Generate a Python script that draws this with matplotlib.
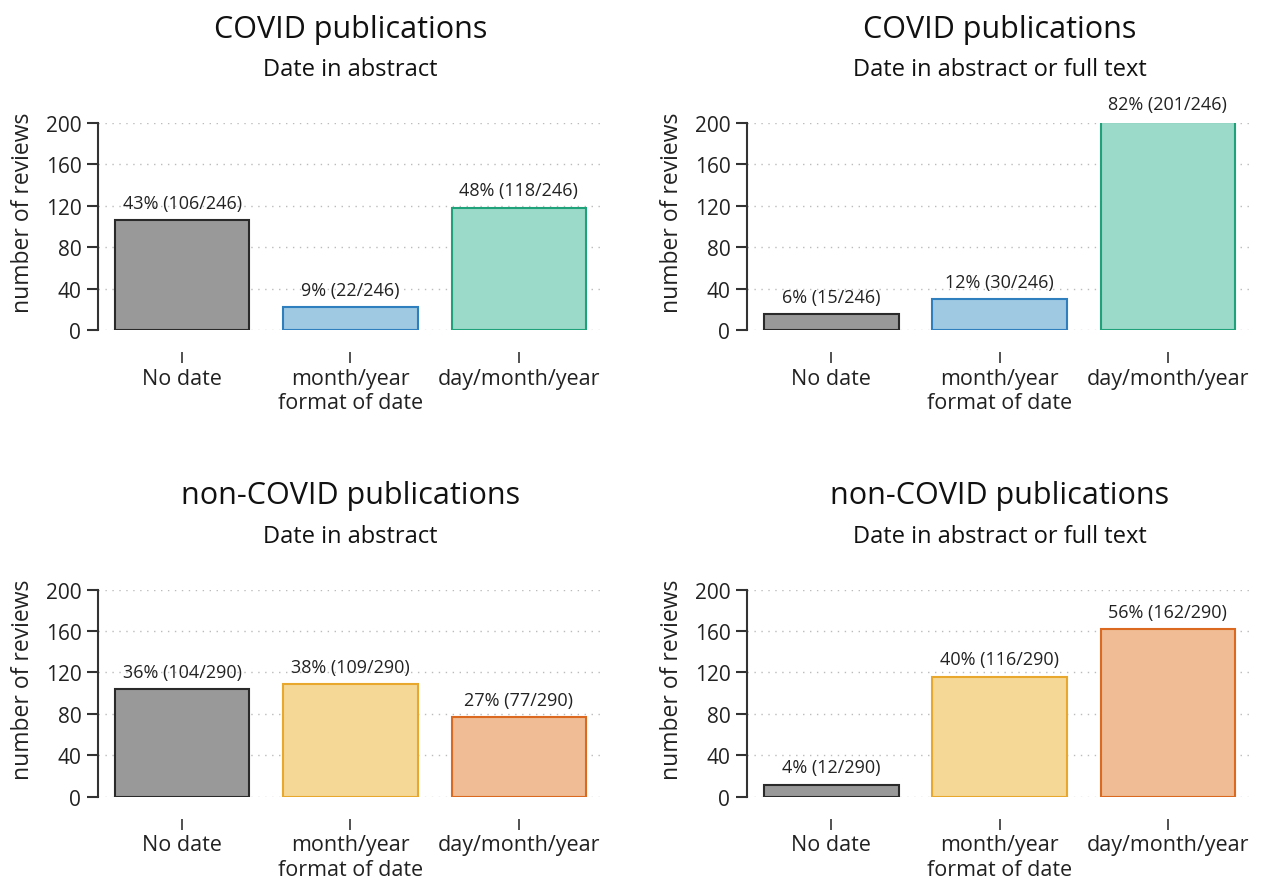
import matplotlib.pyplot as plt
import numpy as np

plt.rcParams['font.family'] = ['Open Sans', 'DejaVu Sans']

categories = ["No date", "month/year\nformat of date", "day/month/year"]

covid_abstract = [106, 22, 118]
covid_fulltext = [15, 30, 201]
noncovid_abstract = [104, 109, 77]
noncovid_fulltext = [12, 116, 162]

covid_total = 246
noncovid_total = 290

pct_covid_abstract = [43, 9, 48]
pct_covid_fulltext = [6, 12, 82]
pct_noncovid_abstract = [36, 38, 27]
pct_noncovid_fulltext = [4, 40, 56]

covid_fill = ["#999999", "#9fc9e2", "#9bdac8"]
covid_edge = ["#2a2a2a", "#2f7fbf", "#1fa27a"]
noncovid_fill = ["#999999", "#f5d896", "#efbc95"]
noncovid_edge = ["#2a2a2a", "#e8a82e", "#db6a20"]

panels = [
    ("COVID publications", "Date in abstract", covid_abstract, pct_covid_abstract,
     covid_total, covid_fill, covid_edge, [0.0777, 0.6234]),
    ("COVID publications", "Date in abstract or full text", covid_fulltext, pct_covid_fulltext,
     covid_total, covid_fill, covid_edge, [0.5924, 0.6234]),
    ("non-COVID publications", "Date in abstract", noncovid_abstract, pct_noncovid_abstract,
     noncovid_total, noncovid_fill, noncovid_edge, [0.0777, 0.0922]),
    ("non-COVID publications", "Date in abstract or full text", noncovid_fulltext, pct_noncovid_fulltext,
     noncovid_total, noncovid_fill, noncovid_edge, [0.5924, 0.0922]),
]

fig = plt.figure(figsize=(12.61, 8.79), dpi=100)
w, h = 0.4005, 0.2360
x = np.arange(len(categories))

for title, sub, vals, pcts, total, fills, edges, (l, b) in panels:
    ax = fig.add_axes([l, b, w, h])
    ax.bar(x, vals, width=0.8, color=fills, edgecolor=edges, linewidth=1.5, zorder=3)
    for xi, v, p in zip(x, vals, pcts):
        ax.annotate(f"{p}% ({v}/{total})", (xi, v), xytext=(0, 6), textcoords="offset points",
                    ha="center", va="bottom", fontsize=13, color="#222222", annotation_clip=False)
    ax.set_xlim(-0.5, 2.5)
    ax.set_ylim(0, 200)
    ax.set_yticks(np.arange(0, 201, 40))
    ax.set_xticks(x)
    ax.set_xticklabels(categories, linespacing=0.9)
    ax.tick_params(axis="y", labelsize=15, length=8, width=1.5, pad=4, colors="#333333", labelcolor="#222222")
    ax.tick_params(axis="x", labelsize=15.5, length=8, width=1.2, pad=3, colors="#333333", labelcolor="#222222")
    for s in ["top", "right"]:
        ax.spines[s].set_visible(False)
    ax.spines["bottom"].set_position(("outward", 16))
    ax.spines["bottom"].set_visible(False)
    ax.spines["left"].set_linewidth(1.5)
    ax.spines["left"].set_color("#333333")
    ax.yaxis.grid(True, linestyle=(0, (1, 4)), color="#bbbbbb", linewidth=1.0, zorder=0)
    ax.set_ylabel("number of reviews", fontsize=16.5, color="#222222")
    ax.yaxis.set_label_coords(-0.125, 0.57)
    cx = l + w / 2
    fig.text(cx, b + h + 0.107, title, ha="center", va="center", fontsize=22, color="#111111")
    fig.text(cx, b + h + 0.061, sub, ha="center", va="center", fontsize=17, color="#111111")

fig.savefig("out.png", dpi=100)
